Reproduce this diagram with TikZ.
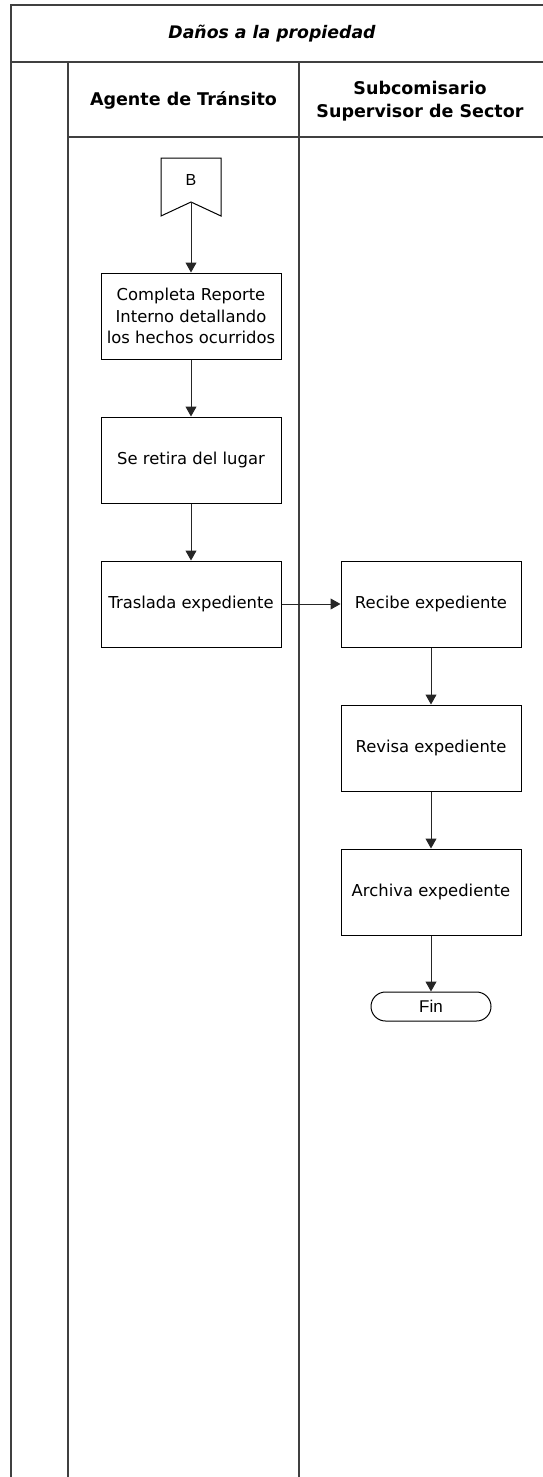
\documentclass[tikz,border=0pt]{standalone}
\usepackage{fontspec}
\setmainfont{DejaVu Sans}
\newfontfamily\arialfont{Liberation Sans}
\usetikzlibrary{arrows.meta,calc}

\begin{document}
\begin{tikzpicture}[x=1pt,y=-1pt,
  lane/.style={line width=1.8pt, draw=black!75},
  task/.style={draw, line width=1pt, minimum width=180pt, minimum height=86pt,
    align=center, inner sep=0pt, font=\fontsize{16.4}{21.5}\selectfont},
  header/.style={align=center, font=\bfseries\fontsize{17.5}{23}\selectfont},
  flow/.style={-{Triangle[length=10pt,width=11pt]}, line width=1pt, draw=black!85},
  endpoint/.style={draw, line width=1pt, rounded corners=14.5pt,
    minimum width=120pt, minimum height=29pt, inner sep=0pt,
    font=\arialfont\fontsize{17}{20}\selectfont}]

\useasboundingbox (0,0) rectangle (543,1477);

% pool frame and lanes
\draw[lane] (543,5) -- (11,5) -- (11,1477);
\draw[lane] (11,62) -- (543,62);
\draw[lane] (68,62) -- (68,1477);
\draw[lane] (299,62) -- (299,1477);
\draw[lane] (68,137) -- (543,137);

% titles
\node[font=\bfseries\itshape\fontsize{17.3}{20}\selectfont] (title) at (272,34) {Daños a la propiedad};
\node[header] (laneA) at (183.5,100) {Agente de Tránsito};
\node[header] (laneB) at (420,101) {Subcomisario\\Supervisor de Sector};

% off-page connector B
\draw[line width=1pt] (161,158) -- (221,158) -- (221,216) -- (191,202) -- (161,216) -- cycle;
\node[font=\arialfont\fontsize{16}{19}\selectfont] (B) at (191,180) {B};
\coordinate (Bn) at (191,202);

% tasks
\node[task] (c1) at (191,316) {Completa Reporte\\Interno detallando\\los hechos ocurridos};
\node[task] (c2) at (191,460) {Se retira del lugar};
\node[task] (c3) at (191,604) {Traslada expediente};
\node[task] (r1) at (431,604) {Recibe expediente};
\node[task] (r2) at (431,748) {Revisa expediente};
\node[task] (r3) at (431,892) {Archiva expediente};
\node[endpoint] (fin) at (431,1006.5) {Fin};

% flow
\draw[flow] (Bn) -- (c1);
\draw[flow] (c1) -- (c2);
\draw[flow] (c2) -- (c3);
\draw[flow] (c3) -- (r1);
\draw[flow] (r1) -- (r2);
\draw[flow] (r2) -- (r3);
\draw[flow] (r3) -- (fin);
\end{tikzpicture}
\end{document}
